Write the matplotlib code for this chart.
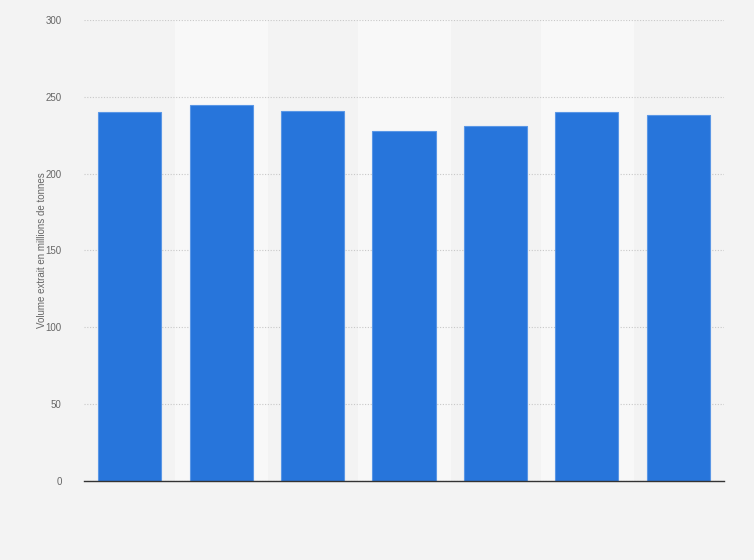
import matplotlib
matplotlib.use("Agg")
import matplotlib.pyplot as plt

plt.rcParams["font.family"] = ["Liberation Sans", "DejaVu Sans"]

# valeurs (millions de tonnes)
categories = ["1", "2", "3", "4", "5", "6", "7"]
volumes = [240, 245, 241, 228, 231, 240, 238]
yticks = [0, 50, 100, 150, 200, 250, 300]

fig = plt.figure(figsize=(7.54, 5.6), dpi=100)
fig.patch.set_facecolor("#f3f3f3")
ax = fig.add_axes([84/754, 1-481/560, 640/754, 461/560])
ax.set_facecolor("#f3f3f3")

x = range(len(categories))
# bandes claires une colonne sur deux
for i in x:
    if i % 2 == 1:
        ax.axvspan(i - 0.5, i + 0.5, color="#f8f8f8", zorder=0)

ax.bar(x, volumes, width=0.69, color="#2775db", edgecolor="#5a97e6",
       linewidth=0.8, zorder=3)

ax.set_xlim(-0.5, len(categories) - 0.5)
ax.set_ylim(0, 300)
ax.set_yticks(yticks)
ax.set_xticks([])
ax.grid(axis="y", linestyle=(0, (1, 1.5)), color="#c8c8c8", linewidth=0.8, zorder=1)
ax.tick_params(axis="y", length=0, pad=16, labelsize=7, labelcolor="#666666")

for s in ["top", "right", "left"]:
    ax.spines[s].set_visible(False)
ax.spines["bottom"].set_color("#333333")
ax.spines["bottom"].set_linewidth(1)
ax.spines["bottom"].set_zorder(4)

ax.set_ylabel("Volume extrait en millions de tonnes", fontsize=7, color="#666666", labelpad=-1)

plt.savefig("out.png", dpi=100, facecolor=fig.get_facecolor())
